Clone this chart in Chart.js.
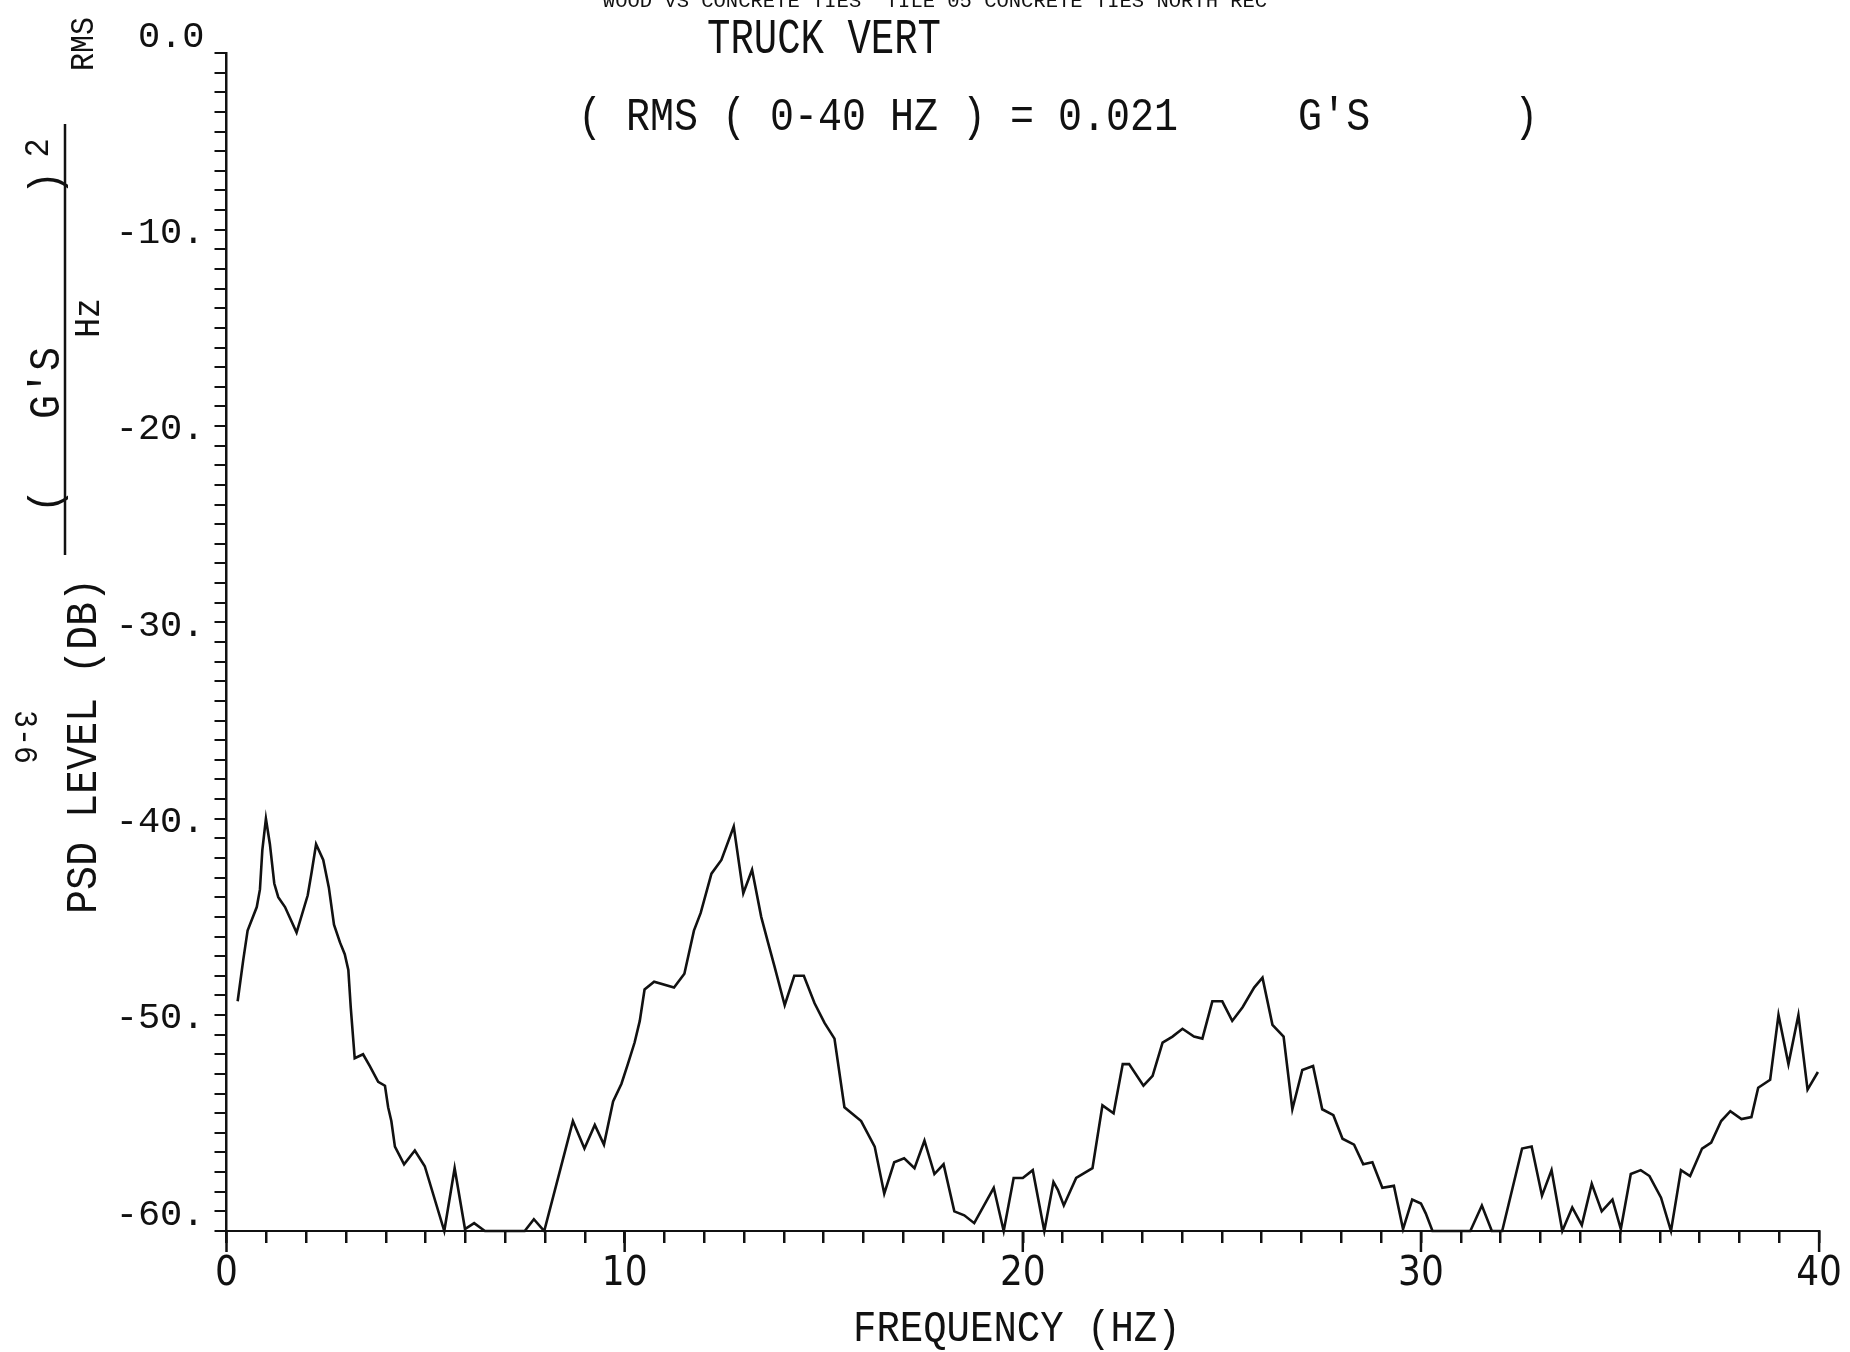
<!DOCTYPE html>
<html>
<head>
<meta charset="utf-8">
<script src="https://cdn.jsdelivr.net/npm/chart.js@4"></script>
<style>
  body { margin: 0; background: #fff; }
  canvas { display: block; }
</style>
</head>
<body>
<canvas id="psd" width="1850" height="1352"></canvas>
<script>
// PSD of truck vertical acceleration (clipped at -60 dB)
const freqHz = [
  0.28, 0.42, 0.53, 0.76, 0.84, 0.90, 0.99, 1.09, 1.20, 1.30, 1.47, 1.76, 2.04, 2.14, 2.25, 2.43,
  2.57, 2.70, 2.85, 2.97, 3.06, 3.12, 3.22, 3.43, 3.60, 3.81, 3.98, 4.06, 4.14, 4.23, 4.46, 4.73,
  4.98, 5.47, 5.73, 5.99, 6.22, 6.49, 7.49, 7.72, 7.98, 8.70, 8.99, 9.25, 9.48, 9.71, 9.92, 10.08,
  10.25, 10.38, 10.50, 10.74, 11.24, 11.50, 11.74, 11.91, 12.18, 12.43, 12.74, 12.98, 13.20, 13.43,
  13.60, 13.76, 14.02, 14.26, 14.50, 14.77, 15.02, 15.27, 15.52, 15.94, 16.28, 16.52, 16.77, 17.02,
  17.28, 17.53, 17.78, 18.01, 18.28, 18.53, 18.78, 19.27, 19.52, 19.77, 20.00, 20.25, 20.54, 20.77,
  20.88, 21.03, 21.34, 21.75, 22.00, 22.28, 22.51, 22.67, 23.03, 23.26, 23.51, 23.76, 24.01, 24.30,
  24.51, 24.76, 25.01, 25.26, 25.52, 25.81, 26.02, 26.27, 26.55, 26.77, 27.02, 27.29, 27.52, 27.80,
  28.03, 28.32, 28.55, 28.78, 29.03, 29.32, 29.55, 29.78, 30.00, 30.12, 30.29, 31.24, 31.53, 31.78,
  32.04, 32.54, 32.78, 33.04, 33.28, 33.55, 33.80, 34.04, 34.29, 34.54, 34.81, 35.02, 35.27, 35.52,
  35.74, 36.03, 36.28, 36.53, 36.76, 37.06, 37.29, 37.54, 37.77, 38.05, 38.30, 38.47, 38.77, 38.98,
  39.23, 39.48, 39.71, 39.97
];
const psdDb = [
  -48.3, -46.2, -44.7, -43.5, -42.6, -40.6, -39.0, -40.3, -42.3, -43.0, -43.5, -44.8, -42.9, -41.7, -40.3, -41.1,
  -42.5, -44.4, -45.3, -45.9, -46.7, -48.6, -51.2, -51.0, -51.6, -52.4, -52.6, -53.7, -54.4, -55.7, -56.6, -55.9,
  -56.7, -60.0, -56.8, -59.9, -59.6, -60.0, -60.0, -59.4, -60.0, -54.4, -55.8, -54.6, -55.6, -53.4, -52.5, -51.5,
  -50.4, -49.3, -47.7, -47.3, -47.6, -46.9, -44.7, -43.8, -41.8, -41.1, -39.4, -42.8, -41.6, -44.0,
  -45.3, -46.5, -48.5, -47.0, -47.0, -48.4, -49.4, -50.2, -53.7, -54.4, -55.7, -58.1, -56.5, -56.3,
  -56.8, -55.4, -57.1, -56.6, -59.0, -59.2, -59.6, -57.8, -60.0, -57.3, -57.3, -56.9, -60.0, -57.5,
  -57.9, -58.7, -57.3, -56.8, -53.6, -54.0, -51.5, -51.5, -52.6, -52.1, -50.4, -50.1, -49.7, -50.1,
  -50.2, -48.3, -48.3, -49.3, -48.6, -47.6, -47.1, -49.5, -50.1, -53.8, -51.8, -51.6, -53.8, -54.1,
  -55.3, -55.6, -56.6, -56.5, -57.8, -57.7, -59.9, -58.4, -58.6, -59.1, -60.0, -60.0, -58.7, -60.0,
  -60.0, -55.8, -55.7, -58.2, -56.9, -60.0, -58.8, -59.7, -57.6, -59.0, -58.4, -59.9, -57.1, -56.9,
  -57.2, -58.3, -60.0, -56.9, -57.2, -55.8, -55.5, -54.4, -53.9, -54.3, -54.2, -52.7, -52.3, -49.0,
  -51.5, -49.0, -52.8, -51.9
];

const xTickLabels = ['0', '10', '20', '30', '40'];
const yTickLabels = ['-60.', '-50.', '-40.', '-30.', '-20.', '-10.', '0.0'];
const majorFreqs = [0, 10, 20, 30, 40];

const MONO = '"Liberation Mono", "DejaVu Sans Mono", monospace';
const NARROW = '"Liberation Sans Narrow", "DejaVu Sans Condensed", sans-serif';

function putText(ctx, text, x, y, size, opts) {
    opts = opts || {};
    ctx.save();
    ctx.translate(x, y);
    if (opts.rot) ctx.rotate(opts.rot);
    ctx.scale(1, opts.sy || 1);
    ctx.font = size + 'px ' + (opts.family || MONO);
    ctx.fillStyle = '#111';
    ctx.textAlign = opts.align || 'center';
    ctx.textBaseline = opts.baseline || 'middle';
    ctx.fillText(text, 0, 0);
    ctx.restore();
}

const plotterText = {
    id: 'plotterText',
    afterDraw(chart) {
        const ctx = chart.ctx;
        const xs = chart.scales.x;
        const area = chart.chartArea;

        // longer ticks at the labelled frequencies
        ctx.save();
        ctx.strokeStyle = '#111';
        ctx.lineWidth = 2.5;
        majorFreqs.forEach(f => {
            const px = xs.getPixelForValue(f);
            ctx.beginPath();
            ctx.moveTo(px, area.bottom);
            ctx.lineTo(px, area.bottom + 21);
            ctx.stroke();
        });
        ctx.restore();

        // header (cut off at the top of the page)
        putText(ctx, 'WOOD VS CONCRETE TIES  TILE 05 CONCRETE TIES NORTH REC', 935, 7, 20.5, { baseline: 'alphabetic' });

        putText(ctx, 'TRUCK VERT', 824, 40, 39, { sy: 1.3 });
        putText(ctx, "( RMS ( 0-40 HZ ) = 0.021     G'S      )", 578, 118, 40, { align: 'left', sy: 1.15 });
        putText(ctx, 'FREQUENCY (HZ)', (area.left + area.right) / 2 - 6, 1329, 39, { sy: 1.15 });

        // rotated y-axis title: PSD LEVEL (DB)  (G'S RMS / Hz)^2
        const up = -Math.PI / 2;
        putText(ctx, 'PSD LEVEL (DB)', 84, 746, 40, { rot: up, sy: 1.1 });
        putText(ctx, 'RMS', 84, 44, 30, { rot: up, sy: 1.1 });
        putText(ctx, '(', 47, 501, 40, { rot: up, sy: 1.1 });
        putText(ctx, "G'S", 47, 383, 40, { rot: up, sy: 1.1 });
        putText(ctx, ')', 47, 183, 40, { rot: up, sy: 1.1 });
        putText(ctx, '2', 39, 148, 32, { rot: up, sy: 1.1 });
        putText(ctx, 'Hz', 89, 318, 33, { rot: up, sy: 1.1 });
        ctx.save();
        ctx.strokeStyle = '#111';
        ctx.lineWidth = 2.5;
        ctx.beginPath();
        ctx.moveTo(65, 124);
        ctx.lineTo(65, 555);
        ctx.stroke();
        ctx.restore();

        // page number
        putText(ctx, '3-6', 24, 737, 30, { rot: Math.PI / 2, sy: 1.1 });
    }
};

const ctx = document.getElementById('psd').getContext('2d');
new Chart(ctx, {
    type: 'line',
    data: {
        datasets: [{
            data: freqHz.map((f, i) => ({ x: f, y: psdDb[i] })),
            borderColor: '#111',
            borderWidth: 2.6,
            pointRadius: 0,
            tension: 0,
            fill: false,
            clip: 6
        }]
    },
    options: {
        responsive: false,
        devicePixelRatio: 1,
        animation: false,
        layout: { padding: { left: 0, right: 29.5, top: 53, bottom: 0 } },
        plugins: {
            legend: { display: false },
            tooltip: { enabled: false },
            title: { display: false }
        },
        scales: {
            x: {
                type: 'linear',
                min: 0,
                max: 40,
                border: { display: true, color: '#111', width: 2 },
                grid: { drawOnChartArea: false, drawTicks: true, tickLength: 12, color: '#111', lineWidth: 2.5 },
                ticks: {
                    stepSize: 1,
                    maxTicksLimit: 100,
                    autoSkip: false,
                    maxRotation: 0,
                    padding: 8,
                    color: '#111',
                    font: { family: NARROW, size: 40 },
                    callback: v => (v % 10 === 0 ? xTickLabels[v / 10] : '')
                },
                afterFit: s => { s.height = 121; }
            },
            y: {
                type: 'linear',
                min: -60,
                max: 0,
                border: { display: true, color: '#111', width: 2.5 },
                grid: { drawOnChartArea: false, drawTicks: true, tickLength: 12, color: '#111', lineWidth: 2 },
                ticks: {
                    stepSize: 1,
                    maxTicksLimit: 100,
                    autoSkip: false,
                    padding: 10,
                    labelOffset: -16,
                    color: '#111',
                    font: { family: MONO, size: 37 },
                    callback: v => (v % 10 === 0 ? yTickLabels[(v + 60) / 10] : '')
                },
                afterFit: s => { s.width = 226.5; }
            }
        }
    },
    plugins: [plotterText]
});
</script>
</body>
</html>
